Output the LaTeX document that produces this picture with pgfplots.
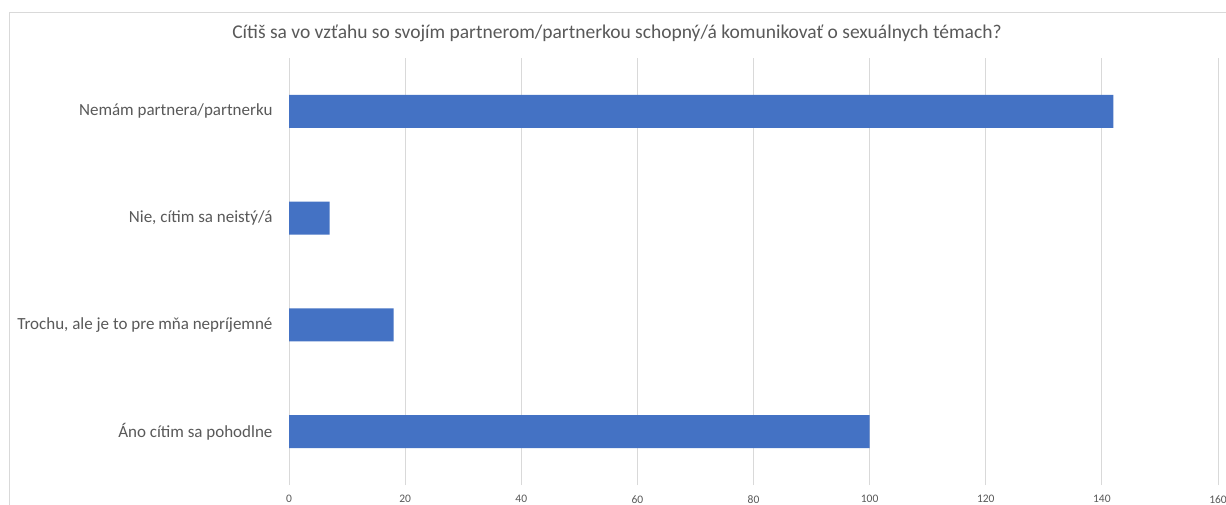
\documentclass[border=0pt]{standalone}
\usepackage{pgfplots}
\pgfplotsset{compat=1.18}
\usepackage{fontspec}
\setmainfont{Carlito}
\definecolor{barblue}{HTML}{4472C4}
\definecolor{txt}{HTML}{595959}
\definecolor{grd}{HTML}{D9D9D9}
\begin{document}
\begin{tikzpicture}[x=1pt,y=1pt]
\useasboundingbox (0,0) rectangle (1226,504);
\fill[white] (0,0) rectangle (1226,504);
\begin{scope}
\clip (0,0) rectangle (1226,504);
\draw[grd, line width=1pt] (9.5,-20) rectangle (1260,491);
\end{scope}
\node[text=txt, font=\fontsize{19.5}{22}\selectfont] at (617,471) {Cítiš sa vo vzťahu so svojím partnerom/partnerkou schopný/á komunikovať o sexuálnych témach?};
\begin{axis}[
  at={(289pt,19pt)}, anchor=south west,
  scale only axis,
  width=929pt, height=427pt,
  xbar, bar width=33pt,
  xmin=0, xmax=160,
  ymin=-0.5, ymax=3.5,
  xtick={0,20,...,160},
  ytick={0,1,2,3},
  yticklabels={Áno cítim sa pohodlne, {Trochu, ale je to pre mňa nepríjemné}, {Nie, cítim sa neistý/á}, Nemám partnera/partnerku},
  axis line style={draw=none},
  major tick length=0pt,
  xmajorgrids, grid style={grd, line width=1pt},
  ticklabel style={text=txt},
  xticklabel style={font=\fontsize{11.5}{12}\selectfont, yshift=-7pt},
  yticklabel style={font=\fontsize{17}{19}\selectfont, xshift=-13pt},
  /pgf/number format/assume math mode=true,
  clip=false,
]
\addplot[fill=barblue, draw=none] coordinates {(100,0) (18,1) (7,2) (142,3)};
\end{axis}
\end{tikzpicture}
\end{document}
